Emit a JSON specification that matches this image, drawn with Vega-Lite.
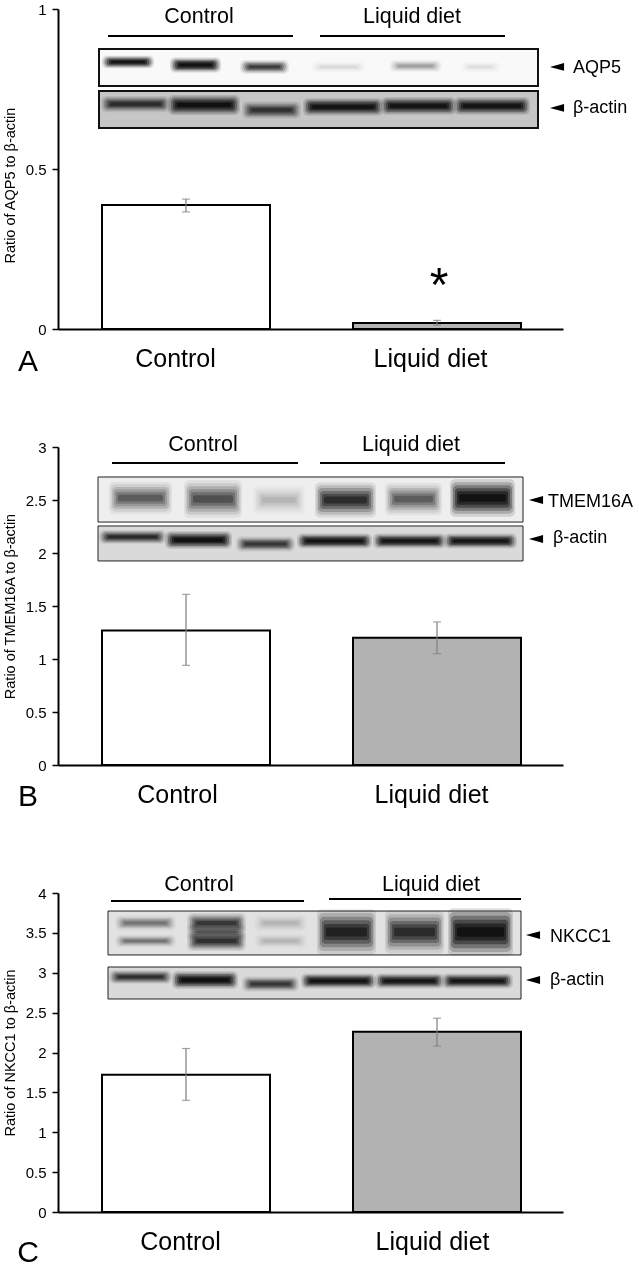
{"$schema":"https://vega.github.io/schema/vega-lite/v6.json","padding":{"left":2,"top":2,"right":0,"bottom":0},"bounds":"flush","spacing":118,"background":"white",
"config":{"view":{"stroke":null},"font":"Liberation Sans","axis":{"grid":false,"domainColor":"black","tickColor":"black","labelColor":"black","titleColor":"black","labelFont":"Liberation Sans","titleFont":"Liberation Sans"},"axisY":{"domainWidth":2,"tickWidth":1.5,"tickSize":6,"labelFontSize":15,"labelPadding":6,"titleFontSize":14.5,"titleFontWeight":"normal","titleX":-41,"zindex":1},"axisX":{"domainWidth":2,"tickSize":0,"labelFontSize":25,"labelPadding":17,"zindex":1,"title":null}},
"datasets":{
"barsA":[{"group":"Control","start":44,"end":212,"val":0.3875},{"group":"Liquid diet","start":295,"end":463,"val":0.019}],
"barsB":[{"group":"Control","start":44,"end":212,"val":1.27},{"group":"Liquid diet","start":295,"end":463,"val":1.2}],
"barsC":[{"group":"Control","start":44,"end":212,"val":1.72},{"group":"Liquid diet","start":295,"end":463,"val":2.26}],
"errA":[{"center":128,"low":0.366,"high":0.406},{"center":379,"low":0.012,"high":0.027}],
"errB":[{"center":128,"low":0.94,"high":1.61},{"center":379,"low":1.05,"high":1.35}],
"errC":[{"center":128,"low":1.4,"high":2.05},{"center":379,"low":2.08,"high":2.43}],
"framesA":[{"start":41,"end":480,"top":0.875,"bottom":0.759,"bg":0.02},{"start":41,"end":480,"top":0.744,"bottom":0.628,"bg":0.2}],
"framesB":[{"start":40,"end":465,"top":2.717,"bottom":2.292,"bg":0.06},{"start":40,"end":465,"top":2.255,"bottom":1.925,"bg":0.13}],
"framesC":[{"start":50,"end":463,"top":3.774,"bottom":3.223,"bg":0.1},{"start":50,"end":463,"top":3.072,"bottom":2.671,"bg":0.13}],
"lanesA":[
{"start":47,"end":93,"y":0.834,"d":0.95,"t":10},{"start":115,"end":160,"y":0.825,"d":1,"t":12},{"start":185,"end":228,"y":0.819,"d":0.6,"t":11},{"start":256,"end":305,"y":0.819,"d":0.06,"t":9},{"start":334,"end":381,"y":0.822,"d":0.2,"t":10},{"start":405,"end":440,"y":0.819,"d":0.05,"t":9},
{"start":46,"end":109,"y":0.703,"d":0.65,"t":13},{"start":113,"end":179,"y":0.7,"d":1,"t":16},{"start":187,"end":240,"y":0.684,"d":0.6,"t":14},{"start":248,"end":322,"y":0.694,"d":0.95,"t":14},{"start":326,"end":395,"y":0.697,"d":0.95,"t":14},{"start":399,"end":469,"y":0.697,"d":0.95,"t":14}],
"lanesB":[
{"start":54,"end":111,"y":2.519,"d":0.42,"t":26},{"start":129,"end":181,"y":2.509,"d":0.48,"t":30},{"start":198,"end":244,"y":2.5,"d":0.12,"t":24},{"start":260,"end":315,"y":2.5,"d":0.7,"t":28},{"start":330,"end":381,"y":2.509,"d":0.42,"t":26},{"start":395,"end":454,"y":2.519,"d":1,"t":30},
{"start":44,"end":105,"y":2.151,"d":0.7,"t":11},{"start":110,"end":171,"y":2.123,"d":1,"t":14},{"start":181,"end":234,"y":2.085,"d":0.6,"t":12},{"start":242,"end":311,"y":2.113,"d":0.95,"t":12},{"start":318,"end":385,"y":2.113,"d":0.9,"t":12},{"start":389,"end":456,"y":2.113,"d":0.9,"t":12}],
"lanesC":[
{"start":60,"end":115,"y":3.624,"d":0.3,"t":12},{"start":60,"end":115,"y":3.398,"d":0.3,"t":10},{"start":132,"end":185,"y":3.624,"d":0.6,"t":16},{"start":132,"end":185,"y":3.398,"d":0.65,"t":16},{"start":132,"end":185,"y":3.511,"d":0.35,"t":14},{"start":199,"end":246,"y":3.624,"d":0.1,"t":14},{"start":199,"end":246,"y":3.398,"d":0.1,"t":12},{"start":262,"end":315,"y":3.511,"d":0.8,"t":36},{"start":330,"end":383,"y":3.511,"d":0.7,"t":34},{"start":393,"end":452,"y":3.511,"d":1,"t":38},
{"start":54,"end":111,"y":2.947,"d":0.65,"t":11},{"start":117,"end":177,"y":2.909,"d":1,"t":14},{"start":187,"end":238,"y":2.859,"d":0.6,"t":12},{"start":246,"end":315,"y":2.897,"d":0.95,"t":12},{"start":320,"end":383,"y":2.897,"d":0.9,"t":12},{"start":387,"end":452,"y":2.897,"d":0.9,"t":12}],
"hlinesA":[{"start":50,"end":235,"y":0.916},{"start":262,"end":447,"y":0.916}],
"hlinesB":[{"start":54,"end":240,"y":2.849},{"start":262,"end":447,"y":2.849}],
"hlinesC":[{"start":53,"end":246,"y":3.9},{"start":271,"end":463,"y":3.925}],
"headersA":[{"label":"Control","pos":141,"y":0.975},{"label":"Liquid diet","pos":354,"y":0.975}],
"headersB":[{"label":"Control","pos":145,"y":3.019},{"label":"Liquid diet","pos":353,"y":3.019}],
"headersC":[{"label":"Control","pos":141,"y":4.1},{"label":"Liquid diet","pos":373,"y":4.1}],
"notesA":[{"label":"AQP5","pos":515,"y":0.816},{"label":"β-actin","pos":515,"y":0.691}],
"notesB":[{"label":"TMEM16A","pos":490,"y":2.481},{"label":"β-actin","pos":495,"y":2.142}],
"notesC":[{"label":"NKCC1","pos":492,"y":3.448},{"label":"β-actin","pos":492,"y":2.909}],
"arrowsA":[{"pos":499,"y":0.819},{"pos":499,"y":0.691}],
"arrowsB":[{"pos":478,"y":2.5},{"pos":478,"y":2.132}],
"arrowsC":[{"pos":475,"y":3.473},{"pos":475,"y":2.909}],
"lettersA":[{"label":"A","pos":-30,"y":-0.103}],
"lettersB":[{"label":"B","pos":-30,"y":-0.302}],
"lettersC":[{"label":"C","pos":-30,"y":-0.514}]
},
"vconcat":[
{"width":505,"height":320,"resolve":{"scale":{"fill":"independent","size":"independent"}},
"encoding":{"x":{"type":"quantitative","scale":{"domain":[0,505],"nice":false,"zero":false,"padding":0},"axis":{"values":[117,372],"labelExpr":"datum.value<200?'Control':'Liquid diet'"}}},
"layer":[
{"data":{"name":"framesA"},"mark":{"type":"rect"},"encoding":{"x":{"field":"start","type":"quantitative"},"x2":{"field":"end"},"y":{"field":"top","type":"quantitative","scale":{"domain":[0,1],"nice":false,"padding":0},"axis":{"values":[0,0.5,1],"format":"~g","title":"Ratio of AQP5 to β-actin","titleY":176}},"y2":{"field":"bottom"},"fill":{"field":"bg","type":"quantitative","scale":{"domain":[0,1],"range":["#ffffff","#000000"]},"legend":null}}},
{"data":{"name":"barsA"},"mark":{"type":"rect","stroke":"black","strokeWidth":2},"encoding":{"x":{"field":"start","type":"quantitative"},"x2":{"field":"end"},"y":{"field":"val","type":"quantitative"},"y2":{"datum":0},"fill":{"field":"group","type":"nominal","scale":{"domain":["Control","Liquid diet"],"range":["#ffffff","#b2b2b2"]},"legend":null}}},
{"data":{"name":"errA"},"mark":{"type":"rule","color":"#7f7f7f","strokeWidth":1.2},"encoding":{"x":{"field":"center","type":"quantitative"},"y":{"field":"low","type":"quantitative"},"y2":{"field":"high"}}},
{"data":{"name":"errA"},"mark":{"type":"tick","orient":"horizontal","color":"#7f7f7f","size":8,"thickness":1.2},"encoding":{"x":{"field":"center","type":"quantitative"},"y":{"field":"low","type":"quantitative"}}},
{"data":{"name":"errA"},"mark":{"type":"tick","orient":"horizontal","color":"#7f7f7f","size":8,"thickness":1.2},"encoding":{"x":{"field":"center","type":"quantitative"},"y":{"field":"high","type":"quantitative"}}},
{"data":{"name":"lanesA"},"mark":{"type":"bar","orient":"horizontal","blend":"multiply","cornerRadius":5,"xOffset":-3,"x2Offset":3},"encoding":{"x":{"field":"start","type":"quantitative"},"x2":{"field":"end"},"y":{"field":"y","type":"quantitative"},"size":{"field":"t","type":"quantitative","scale":{"domain":[0,40],"range":[0,50]},"legend":null},"fill":{"field":"d","type":"quantitative","scale":{"domain":[0,1],"range":["#ffffff","#e0e0e0"]},"legend":null}}},
{"data":{"name":"lanesA"},"mark":{"type":"bar","orient":"horizontal","blend":"multiply","cornerRadius":5,"xOffset":-1.5,"x2Offset":1.5},"encoding":{"x":{"field":"start","type":"quantitative"},"x2":{"field":"end"},"y":{"field":"y","type":"quantitative"},"size":{"field":"t","type":"quantitative","scale":{"domain":[0,40],"range":[0,42]},"legend":null},"fill":{"field":"d","type":"quantitative","scale":{"domain":[0,1],"range":["#ffffff","#d0d0d0"]},"legend":null}}},
{"data":{"name":"lanesA"},"mark":{"type":"bar","orient":"horizontal","blend":"multiply","cornerRadius":4,"xOffset":0,"x2Offset":0},"encoding":{"x":{"field":"start","type":"quantitative"},"x2":{"field":"end"},"y":{"field":"y","type":"quantitative"},"size":{"field":"t","type":"quantitative","scale":{"domain":[0,40],"range":[0,34]},"legend":null},"fill":{"field":"d","type":"quantitative","scale":{"domain":[0,1],"range":["#ffffff","#b8b8b8"]},"legend":null}}},
{"data":{"name":"lanesA"},"mark":{"type":"bar","orient":"horizontal","blend":"multiply","cornerRadius":3,"xOffset":2,"x2Offset":-2},"encoding":{"x":{"field":"start","type":"quantitative"},"x2":{"field":"end"},"y":{"field":"y","type":"quantitative"},"size":{"field":"t","type":"quantitative","scale":{"domain":[0,40],"range":[0,26]},"legend":null},"fill":{"field":"d","type":"quantitative","scale":{"domain":[0,1],"range":["#ffffff","#a0a0a0"]},"legend":null}}},
{"data":{"name":"lanesA"},"mark":{"type":"bar","orient":"horizontal","blend":"multiply","cornerRadius":2,"xOffset":4,"x2Offset":-4},"encoding":{"x":{"field":"start","type":"quantitative"},"x2":{"field":"end"},"y":{"field":"y","type":"quantitative"},"size":{"field":"t","type":"quantitative","scale":{"domain":[0,40],"range":[0,18]},"legend":null},"fill":{"field":"d","type":"quantitative","scale":{"domain":[0,1],"range":["#ffffff","#888888"]},"legend":null}}},
{"data":{"name":"lanesA"},"mark":{"type":"bar","orient":"horizontal","blend":"multiply","cornerRadius":2,"xOffset":6,"x2Offset":-6},"encoding":{"x":{"field":"start","type":"quantitative"},"x2":{"field":"end"},"y":{"field":"y","type":"quantitative"},"size":{"field":"t","type":"quantitative","scale":{"domain":[0,40],"range":[0,10]},"legend":null},"fill":{"field":"d","type":"quantitative","scale":{"domain":[0,1],"range":["#ffffff","#707070"]},"legend":null}}},
{"data":{"name":"framesA"},"mark":{"type":"rect","fillOpacity":0,"stroke":"#111111","strokeWidth":2},"encoding":{"x":{"field":"start","type":"quantitative"},"x2":{"field":"end"},"y":{"field":"top","type":"quantitative"},"y2":{"field":"bottom"}}},
{"data":{"name":"hlinesA"},"mark":{"type":"rule","color":"black","strokeWidth":2},"encoding":{"x":{"field":"start","type":"quantitative"},"x2":{"field":"end"},"y":{"field":"y","type":"quantitative"}}},
{"data":{"name":"headersA"},"mark":{"type":"text","fontSize":21.5,"align":"center","baseline":"middle"},"encoding":{"x":{"field":"pos","type":"quantitative"},"y":{"field":"y","type":"quantitative"},"text":{"field":"label"}}},
{"data":{"name":"notesA"},"mark":{"type":"text","fontSize":18,"align":"left","baseline":"middle"},"encoding":{"x":{"field":"pos","type":"quantitative"},"y":{"field":"y","type":"quantitative"},"text":{"field":"label"}}},
{"data":{"name":"arrowsA"},"mark":{"type":"point","shape":"M-1,0L1,-0.55L1,0.55Z","filled":true,"color":"black","opacity":1,"size":200},"encoding":{"x":{"field":"pos","type":"quantitative"},"y":{"field":"y","type":"quantitative"}}},
{"data":{"name":"lettersA"},"mark":{"type":"text","fontSize":30,"align":"center","baseline":"middle"},"encoding":{"x":{"field":"pos","type":"quantitative"},"y":{"field":"y","type":"quantitative"},"text":{"field":"label"}}},
{"data":{"values":[{"label":"*","pos":381,"y":0.13}]},"mark":{"type":"text","fontSize":48,"align":"center","baseline":"middle"},"encoding":{"x":{"field":"pos","type":"quantitative"},"y":{"field":"y","type":"quantitative"},"text":{"field":"label"}}}
]},
{"width":505,"height":318,"resolve":{"scale":{"fill":"independent","size":"independent"}},
"encoding":{"x":{"type":"quantitative","scale":{"domain":[0,505],"nice":false,"zero":false,"padding":0},"axis":{"values":[119,373],"labelExpr":"datum.value<200?'Control':'Liquid diet'"}}},
"layer":[
{"data":{"name":"framesB"},"mark":{"type":"rect"},"encoding":{"x":{"field":"start","type":"quantitative"},"x2":{"field":"end"},"y":{"field":"top","type":"quantitative","scale":{"domain":[0,3],"nice":false,"padding":0},"axis":{"values":[0,0.5,1,1.5,2,2.5,3],"format":"~g","title":"Ratio of TMEM16A to β-actin"}},"y2":{"field":"bottom"},"fill":{"field":"bg","type":"quantitative","scale":{"domain":[0,1],"range":["#ffffff","#000000"]},"legend":null}}},
{"data":{"name":"barsB"},"mark":{"type":"rect","stroke":"black","strokeWidth":2},"encoding":{"x":{"field":"start","type":"quantitative"},"x2":{"field":"end"},"y":{"field":"val","type":"quantitative"},"y2":{"datum":0},"fill":{"field":"group","type":"nominal","scale":{"domain":["Control","Liquid diet"],"range":["#ffffff","#b2b2b2"]},"legend":null}}},
{"data":{"name":"errB"},"mark":{"type":"rule","color":"#7f7f7f","strokeWidth":1.2},"encoding":{"x":{"field":"center","type":"quantitative"},"y":{"field":"low","type":"quantitative"},"y2":{"field":"high"}}},
{"data":{"name":"errB"},"mark":{"type":"tick","orient":"horizontal","color":"#7f7f7f","size":8,"thickness":1.2},"encoding":{"x":{"field":"center","type":"quantitative"},"y":{"field":"low","type":"quantitative"}}},
{"data":{"name":"errB"},"mark":{"type":"tick","orient":"horizontal","color":"#7f7f7f","size":8,"thickness":1.2},"encoding":{"x":{"field":"center","type":"quantitative"},"y":{"field":"high","type":"quantitative"}}},
{"data":{"name":"lanesB"},"mark":{"type":"bar","orient":"horizontal","blend":"multiply","cornerRadius":5,"xOffset":-3,"x2Offset":3},"encoding":{"x":{"field":"start","type":"quantitative"},"x2":{"field":"end"},"y":{"field":"y","type":"quantitative"},"size":{"field":"t","type":"quantitative","scale":{"domain":[0,40],"range":[0,50]},"legend":null},"fill":{"field":"d","type":"quantitative","scale":{"domain":[0,1],"range":["#ffffff","#e0e0e0"]},"legend":null}}},
{"data":{"name":"lanesB"},"mark":{"type":"bar","orient":"horizontal","blend":"multiply","cornerRadius":5,"xOffset":-1.5,"x2Offset":1.5},"encoding":{"x":{"field":"start","type":"quantitative"},"x2":{"field":"end"},"y":{"field":"y","type":"quantitative"},"size":{"field":"t","type":"quantitative","scale":{"domain":[0,40],"range":[0,42]},"legend":null},"fill":{"field":"d","type":"quantitative","scale":{"domain":[0,1],"range":["#ffffff","#d0d0d0"]},"legend":null}}},
{"data":{"name":"lanesB"},"mark":{"type":"bar","orient":"horizontal","blend":"multiply","cornerRadius":4,"xOffset":0,"x2Offset":0},"encoding":{"x":{"field":"start","type":"quantitative"},"x2":{"field":"end"},"y":{"field":"y","type":"quantitative"},"size":{"field":"t","type":"quantitative","scale":{"domain":[0,40],"range":[0,34]},"legend":null},"fill":{"field":"d","type":"quantitative","scale":{"domain":[0,1],"range":["#ffffff","#b8b8b8"]},"legend":null}}},
{"data":{"name":"lanesB"},"mark":{"type":"bar","orient":"horizontal","blend":"multiply","cornerRadius":3,"xOffset":2,"x2Offset":-2},"encoding":{"x":{"field":"start","type":"quantitative"},"x2":{"field":"end"},"y":{"field":"y","type":"quantitative"},"size":{"field":"t","type":"quantitative","scale":{"domain":[0,40],"range":[0,26]},"legend":null},"fill":{"field":"d","type":"quantitative","scale":{"domain":[0,1],"range":["#ffffff","#a0a0a0"]},"legend":null}}},
{"data":{"name":"lanesB"},"mark":{"type":"bar","orient":"horizontal","blend":"multiply","cornerRadius":2,"xOffset":4,"x2Offset":-4},"encoding":{"x":{"field":"start","type":"quantitative"},"x2":{"field":"end"},"y":{"field":"y","type":"quantitative"},"size":{"field":"t","type":"quantitative","scale":{"domain":[0,40],"range":[0,18]},"legend":null},"fill":{"field":"d","type":"quantitative","scale":{"domain":[0,1],"range":["#ffffff","#888888"]},"legend":null}}},
{"data":{"name":"lanesB"},"mark":{"type":"bar","orient":"horizontal","blend":"multiply","cornerRadius":2,"xOffset":6,"x2Offset":-6},"encoding":{"x":{"field":"start","type":"quantitative"},"x2":{"field":"end"},"y":{"field":"y","type":"quantitative"},"size":{"field":"t","type":"quantitative","scale":{"domain":[0,40],"range":[0,10]},"legend":null},"fill":{"field":"d","type":"quantitative","scale":{"domain":[0,1],"range":["#ffffff","#707070"]},"legend":null}}},
{"data":{"name":"framesB"},"mark":{"type":"rect","fillOpacity":0,"stroke":"#222222","strokeWidth":1},"encoding":{"x":{"field":"start","type":"quantitative"},"x2":{"field":"end"},"y":{"field":"top","type":"quantitative"},"y2":{"field":"bottom"}}},
{"data":{"name":"hlinesB"},"mark":{"type":"rule","color":"black","strokeWidth":2},"encoding":{"x":{"field":"start","type":"quantitative"},"x2":{"field":"end"},"y":{"field":"y","type":"quantitative"}}},
{"data":{"name":"headersB"},"mark":{"type":"text","fontSize":21.5,"align":"center","baseline":"middle"},"encoding":{"x":{"field":"pos","type":"quantitative"},"y":{"field":"y","type":"quantitative"},"text":{"field":"label"}}},
{"data":{"name":"notesB"},"mark":{"type":"text","fontSize":18,"align":"left","baseline":"middle"},"encoding":{"x":{"field":"pos","type":"quantitative"},"y":{"field":"y","type":"quantitative"},"text":{"field":"label"}}},
{"data":{"name":"arrowsB"},"mark":{"type":"point","shape":"M-1,0L1,-0.55L1,0.55Z","filled":true,"color":"black","opacity":1,"size":200},"encoding":{"x":{"field":"pos","type":"quantitative"},"y":{"field":"y","type":"quantitative"}}},
{"data":{"name":"lettersB"},"mark":{"type":"text","fontSize":30,"align":"center","baseline":"middle"},"encoding":{"x":{"field":"pos","type":"quantitative"},"y":{"field":"y","type":"quantitative"},"text":{"field":"label"}}}
]},
{"width":505,"height":329,"resolve":{"scale":{"fill":"independent","size":"independent"}},
"encoding":{"x":{"type":"quantitative","scale":{"domain":[0,505],"nice":false,"zero":false,"padding":0},"axis":{"values":[122,374],"labelExpr":"datum.value<200?'Control':'Liquid diet'"}}},
"layer":[
{"data":{"name":"framesC"},"mark":{"type":"rect"},"encoding":{"x":{"field":"start","type":"quantitative"},"x2":{"field":"end"},"y":{"field":"top","type":"quantitative","scale":{"domain":[0,4],"nice":false,"padding":0,"range":[329,10]},"axis":{"values":[0,0.5,1,1.5,2,2.5,3,3.5,4],"format":"~g","title":"Ratio of NKCC1 to β-actin"}},"y2":{"field":"bottom"},"fill":{"field":"bg","type":"quantitative","scale":{"domain":[0,1],"range":["#ffffff","#000000"]},"legend":null}}},
{"data":{"name":"barsC"},"mark":{"type":"rect","stroke":"black","strokeWidth":2},"encoding":{"x":{"field":"start","type":"quantitative"},"x2":{"field":"end"},"y":{"field":"val","type":"quantitative"},"y2":{"datum":0},"fill":{"field":"group","type":"nominal","scale":{"domain":["Control","Liquid diet"],"range":["#ffffff","#b2b2b2"]},"legend":null}}},
{"data":{"name":"errC"},"mark":{"type":"rule","color":"#7f7f7f","strokeWidth":1.2},"encoding":{"x":{"field":"center","type":"quantitative"},"y":{"field":"low","type":"quantitative"},"y2":{"field":"high"}}},
{"data":{"name":"errC"},"mark":{"type":"tick","orient":"horizontal","color":"#7f7f7f","size":8,"thickness":1.2},"encoding":{"x":{"field":"center","type":"quantitative"},"y":{"field":"low","type":"quantitative"}}},
{"data":{"name":"errC"},"mark":{"type":"tick","orient":"horizontal","color":"#7f7f7f","size":8,"thickness":1.2},"encoding":{"x":{"field":"center","type":"quantitative"},"y":{"field":"high","type":"quantitative"}}},
{"data":{"name":"lanesC"},"mark":{"type":"bar","orient":"horizontal","blend":"multiply","cornerRadius":5,"xOffset":-3,"x2Offset":3},"encoding":{"x":{"field":"start","type":"quantitative"},"x2":{"field":"end"},"y":{"field":"y","type":"quantitative"},"size":{"field":"t","type":"quantitative","scale":{"domain":[0,40],"range":[0,50]},"legend":null},"fill":{"field":"d","type":"quantitative","scale":{"domain":[0,1],"range":["#ffffff","#e0e0e0"]},"legend":null}}},
{"data":{"name":"lanesC"},"mark":{"type":"bar","orient":"horizontal","blend":"multiply","cornerRadius":5,"xOffset":-1.5,"x2Offset":1.5},"encoding":{"x":{"field":"start","type":"quantitative"},"x2":{"field":"end"},"y":{"field":"y","type":"quantitative"},"size":{"field":"t","type":"quantitative","scale":{"domain":[0,40],"range":[0,42]},"legend":null},"fill":{"field":"d","type":"quantitative","scale":{"domain":[0,1],"range":["#ffffff","#d0d0d0"]},"legend":null}}},
{"data":{"name":"lanesC"},"mark":{"type":"bar","orient":"horizontal","blend":"multiply","cornerRadius":4,"xOffset":0,"x2Offset":0},"encoding":{"x":{"field":"start","type":"quantitative"},"x2":{"field":"end"},"y":{"field":"y","type":"quantitative"},"size":{"field":"t","type":"quantitative","scale":{"domain":[0,40],"range":[0,34]},"legend":null},"fill":{"field":"d","type":"quantitative","scale":{"domain":[0,1],"range":["#ffffff","#b8b8b8"]},"legend":null}}},
{"data":{"name":"lanesC"},"mark":{"type":"bar","orient":"horizontal","blend":"multiply","cornerRadius":3,"xOffset":2,"x2Offset":-2},"encoding":{"x":{"field":"start","type":"quantitative"},"x2":{"field":"end"},"y":{"field":"y","type":"quantitative"},"size":{"field":"t","type":"quantitative","scale":{"domain":[0,40],"range":[0,26]},"legend":null},"fill":{"field":"d","type":"quantitative","scale":{"domain":[0,1],"range":["#ffffff","#a0a0a0"]},"legend":null}}},
{"data":{"name":"lanesC"},"mark":{"type":"bar","orient":"horizontal","blend":"multiply","cornerRadius":2,"xOffset":4,"x2Offset":-4},"encoding":{"x":{"field":"start","type":"quantitative"},"x2":{"field":"end"},"y":{"field":"y","type":"quantitative"},"size":{"field":"t","type":"quantitative","scale":{"domain":[0,40],"range":[0,18]},"legend":null},"fill":{"field":"d","type":"quantitative","scale":{"domain":[0,1],"range":["#ffffff","#888888"]},"legend":null}}},
{"data":{"name":"lanesC"},"mark":{"type":"bar","orient":"horizontal","blend":"multiply","cornerRadius":2,"xOffset":6,"x2Offset":-6},"encoding":{"x":{"field":"start","type":"quantitative"},"x2":{"field":"end"},"y":{"field":"y","type":"quantitative"},"size":{"field":"t","type":"quantitative","scale":{"domain":[0,40],"range":[0,10]},"legend":null},"fill":{"field":"d","type":"quantitative","scale":{"domain":[0,1],"range":["#ffffff","#707070"]},"legend":null}}},
{"data":{"name":"framesC"},"mark":{"type":"rect","fillOpacity":0,"stroke":"#222222","strokeWidth":1},"encoding":{"x":{"field":"start","type":"quantitative"},"x2":{"field":"end"},"y":{"field":"top","type":"quantitative"},"y2":{"field":"bottom"}}},
{"data":{"name":"hlinesC"},"mark":{"type":"rule","color":"black","strokeWidth":2},"encoding":{"x":{"field":"start","type":"quantitative"},"x2":{"field":"end"},"y":{"field":"y","type":"quantitative"}}},
{"data":{"name":"headersC"},"mark":{"type":"text","fontSize":21.5,"align":"center","baseline":"middle"},"encoding":{"x":{"field":"pos","type":"quantitative"},"y":{"field":"y","type":"quantitative"},"text":{"field":"label"}}},
{"data":{"name":"notesC"},"mark":{"type":"text","fontSize":18,"align":"left","baseline":"middle"},"encoding":{"x":{"field":"pos","type":"quantitative"},"y":{"field":"y","type":"quantitative"},"text":{"field":"label"}}},
{"data":{"name":"arrowsC"},"mark":{"type":"point","shape":"M-1,0L1,-0.55L1,0.55Z","filled":true,"color":"black","opacity":1,"size":200},"encoding":{"x":{"field":"pos","type":"quantitative"},"y":{"field":"y","type":"quantitative"}}},
{"data":{"name":"lettersC"},"mark":{"type":"text","fontSize":30,"align":"center","baseline":"middle"},"encoding":{"x":{"field":"pos","type":"quantitative"},"y":{"field":"y","type":"quantitative"},"text":{"field":"label"}}}
]}
]}
